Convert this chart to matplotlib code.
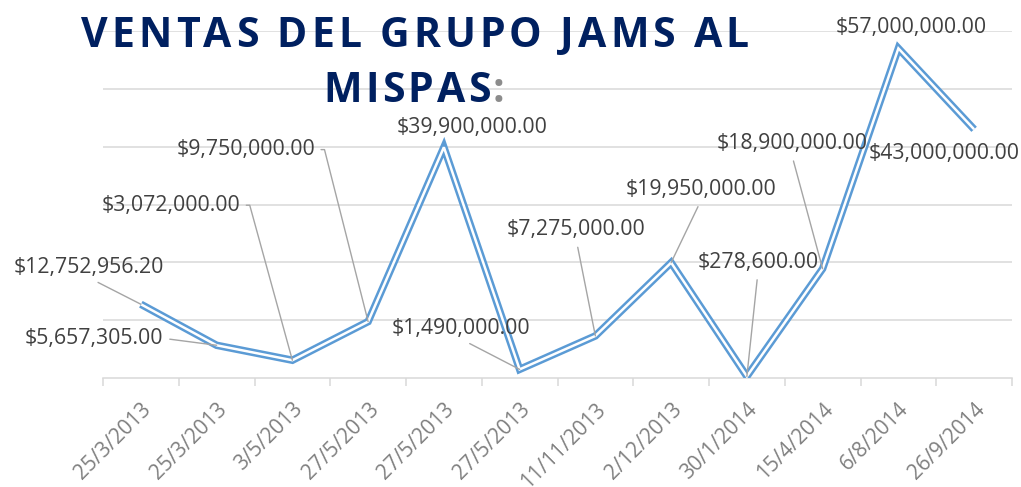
import matplotlib
matplotlib.use("Agg")
import matplotlib.pyplot as plt
import matplotlib.transforms as mtransforms
from matplotlib.font_manager import FontProperties, findfont, get_font
import numpy as np

# data
fechas = ["25/3/2013", "25/3/2013", "3/5/2013", "27/5/2013", "27/5/2013",
          "27/5/2013", "11/11/2013", "2/12/2013", "30/1/2014", "15/4/2014",
          "6/8/2014", "26/9/2014"]
ventas = [12752956.20, 5657305.00, 3072000.00, 9750000.00, 39900000.00,
          1490000.00, 7275000.00, 19950000.00, 278600.00, 18900000.00,
          57000000.00, 43000000.00]

# label offsets (pixels from point), leader anchor on label (None = no leader)
label_dx = [-52, -123, -121, -122, 28, -59, -19, 30, 11, -31, 13, -30]
label_dy = [37, 7, 155, 172, 20, 41, 106, 73, 114, 125, 21, -24]
leader = [(0.5, 0), (1, 0.5), "side", "side", None, (0.5, 0), (0.5, 0),
          (0.5, 0), (0.5, 0), (0.5, 0), None, None]

BLUE = "#5b9bd5"
GRID = "#d9d9d9"
TEXT = "#404040"
NAVY = "#002060"
FONT = "Open Sans"

W, H = 1021, 487
fig = plt.figure(figsize=(W / 100, H / 100), dpi=100)
ax = fig.add_axes([103 / W, (H - 378) / H, (1012 - 103) / W, (378 - 31) / H])

x = np.arange(len(ventas))
ax.set_xlim(-0.5, len(ventas) - 0.5)
ax.set_ylim(0, 60e6)

# grid
for v in range(10, 70, 10):
    ax.axhline(v * 1e6, color=GRID, lw=1.1, zorder=0)
for s in ["top", "left", "right"]:
    ax.spines[s].set_visible(False)
ax.spines["bottom"].set_color(GRID)
ax.spines["bottom"].set_linewidth(1.1)
ax.set_yticks([])

# double line: thick blue with white core
ax.plot(x, ventas, color=BLUE, lw=5.4, solid_capstyle="butt",
        solid_joinstyle="miter", zorder=3)
ax.plot(x, ventas, color="white", lw=1.8, solid_capstyle="butt",
        solid_joinstyle="miter", zorder=4)

# ticks
ax.set_xticks(x)
ax.set_xticks(np.arange(-0.5, len(ventas)), minor=True)
ax.tick_params(axis="x", which="major", length=0, pad=15)
ax.tick_params(axis="x", which="minor", length=6, color=GRID, width=1.1)
ax.set_xticklabels(fechas, rotation=45, ha="right", va="top",
                   rotation_mode="anchor", fontsize=15, color="#808080",
                   family=FONT)
off = mtransforms.ScaledTranslation(0, 0, fig.dpi_scale_trans)
for lab in ax.get_xticklabels():
    lab.set_transform(lab.get_transform() + off)

# data labels
for i, v in enumerate(ventas):
    txt = "${:,.2f}".format(v)
    kw = dict(xy=(x[i], v), xytext=(label_dx[i] * 0.72, label_dy[i] * 0.72),
              textcoords="offset points", ha="center", va="center",
              fontsize=15.3, color=TEXT, family=FONT, zorder=6)
    if leader[i] == "side":
        kw["arrowprops"] = dict(arrowstyle="-", color="#a5a5a5", lw=1,
                                shrinkA=2, shrinkB=0, relpos=(1, 0.5),
                                connectionstyle="arc,angleA=0,armA=9,angleB=90,armB=0,rad=0")
    elif leader[i] is not None:
        kw["arrowprops"] = dict(arrowstyle="-", color="#a5a5a5", lw=1,
                                shrinkA=3, shrinkB=0, relpos=leader[i])
    ax.annotate(txt, **kw)


# title with letter spacing, drawn glyph by glyph
def spaced_text(s, x0, base, width, size, color, extra=None):
    prop = FontProperties(family=FONT, weight="bold", size=size)
    font = get_font(findfont(prop))
    font.set_size(size, 100)
    adv = []
    for c in s:
        font.load_char(ord(c))
        adv.append(font.get_glyph_name(font.get_char_index(ord(c))) and
                   font.load_char(ord(c)).linearHoriAdvance / 65536)
    track = (width - sum(adv)) / (len(s) - 1)
    xp = x0
    for c, a in zip(s, adv):
        fig.text(xp / W, 1 - base / H, c, ha="left", va="baseline",
                 fontproperties=prop, color=color)
        xp += a + track
    return xp, track


spaced_text("VENTAS DEL GRUPO JAMS AL", 81, 47, 668, 29.5, NAVY)
xe, tr = spaced_text("MISPAS", 323, 102, 168, 29.5, NAVY)
prop = FontProperties(family=FONT, weight="bold", size=29.5)
fig.text((xe - 2) / W, 1 - 102 / H, ":", ha="left", va="baseline",
         fontproperties=prop, color="#8c8c8c")

fig.savefig("out.png", dpi=100)
